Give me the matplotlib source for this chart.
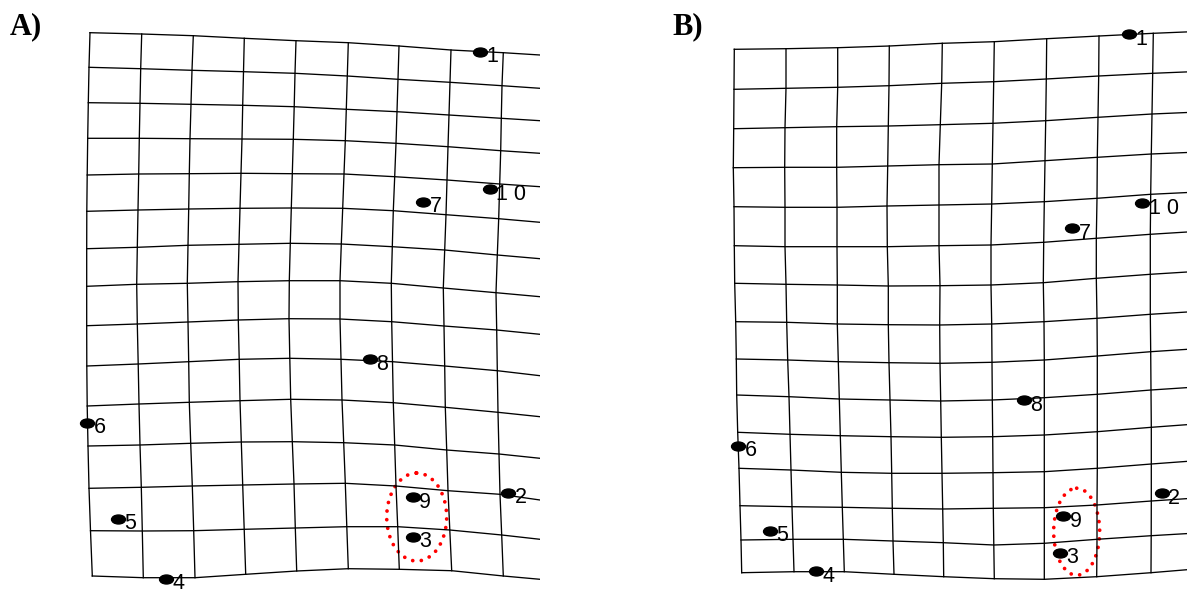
import numpy as np
import matplotlib
matplotlib.use("Agg")
import matplotlib.pyplot as plt
from matplotlib.path import Path
from matplotlib.transforms import Affine2D
from matplotlib.patches import Ellipse

# --- A) deformation grid: node positions (image pixels), rows top->bottom ---
# x of the 9 vertical lines, one row per horizontal line
a_x = np.array([
    [90.0, 141.7, 193.3, 244.3, 296.0, 348.3, 399.0, 451.0, 503.3],
    [89.0, 140.7, 192.0, 243.5, 295.0, 347.3, 398.0, 450.0, 502.0],
    [88.3, 140.0, 191.0, 242.7, 294.2, 346.3, 397.0, 449.0, 501.3],
    [87.7, 139.3, 190.0, 242.0, 293.3, 345.3, 396.0, 448.0, 500.7],
    [87.2, 138.7, 189.3, 241.0, 292.3, 344.0, 394.7, 447.0, 499.7],
    [86.8, 138.0, 188.7, 240.0, 291.3, 342.7, 393.3, 446.0, 498.7],
    [86.7, 137.3, 188.0, 239.0, 290.3, 341.3, 392.3, 444.7, 497.3],
    [86.7, 136.7, 187.3, 238.0, 289.3, 340.0, 391.3, 443.3, 496.0],
    [86.7, 137.3, 188.0, 238.3, 289.0, 340.0, 391.7, 444.0, 496.7],
    [86.8, 138.2, 188.7, 239.2, 289.8, 341.0, 392.5, 444.7, 497.3],
    [87.2, 139.0, 189.3, 240.0, 290.7, 342.0, 393.3, 445.3, 498.0],
    [88.0, 140.0, 190.7, 241.3, 292.3, 343.7, 394.7, 446.7, 499.0],
    [89.0, 141.3, 192.3, 242.7, 294.0, 345.3, 396.0, 448.0, 500.0],
    [90.5, 142.3, 193.7, 244.2, 295.3, 346.8, 397.7, 449.8, 501.7],
    [92.3, 143.3, 195.0, 245.7, 296.7, 348.3, 399.3, 451.7, 503.3],
])
# y of the 15 horizontal lines at each vertical line, last column = right edge
a_y = np.array([
    [32.7, 34.0, 35.7, 38.3, 40.7, 42.7, 46.0, 50.0, 52.7, 55.0],
    [67.3, 68.7, 70.3, 71.7, 73.3, 76.0, 79.3, 82.3, 85.7, 88.3],
    [102.7, 103.3, 104.3, 105.3, 106.7, 109.3, 111.7, 115.0, 118.3, 120.7],
    [138.3, 138.3, 138.7, 139.0, 139.3, 140.7, 143.3, 146.7, 150.7, 153.3],
    [175.0, 174.0, 173.7, 173.3, 173.7, 174.0, 176.7, 180.0, 184.0, 186.7],
    [211.3, 210.0, 209.0, 208.3, 208.0, 208.3, 210.7, 214.7, 218.7, 222.3],
    [248.7, 247.3, 245.3, 244.3, 243.3, 244.0, 246.7, 250.0, 255.0, 258.7],
    [286.3, 284.3, 283.3, 281.7, 280.7, 280.7, 283.3, 288.0, 292.7, 296.7],
    [325.7, 324.0, 322.0, 320.0, 318.7, 319.0, 321.7, 326.0, 330.0, 334.3],
    [366.0, 364.0, 361.7, 359.3, 358.3, 359.3, 361.7, 366.0, 370.7, 375.7],
    [406.0, 404.0, 402.3, 400.7, 399.3, 400.0, 402.7, 407.3, 412.3, 416.7],
    [446.0, 445.0, 443.3, 442.0, 441.7, 442.7, 445.0, 450.0, 454.0, 458.3],
    [488.3, 487.3, 486.0, 485.0, 484.0, 483.3, 486.0, 490.7, 494.3, 500.0],
    [530.7, 531.0, 530.7, 529.3, 528.0, 526.7, 526.7, 530.0, 535.0, 539.3],
    [576.0, 577.7, 577.7, 574.3, 571.0, 568.7, 569.3, 570.7, 576.0, 579.3],
])
a_edge = 540

# --- B) deformation grid ---
b_x = np.array([
    [734.3, 786.0, 837.7, 889.3, 942.3, 994.3, 1046.7, 1099.0, 1153.3],
    [734.0, 786.0, 837.7, 889.0, 941.7, 993.7, 1046.3, 1098.7, 1152.7],
    [733.7, 785.0, 836.7, 888.3, 940.3, 993.0, 1045.7, 1098.0, 1152.0],
    [733.3, 784.7, 836.7, 887.7, 939.0, 992.3, 1045.0, 1097.3, 1151.3],
    [734.0, 785.0, 837.0, 887.0, 939.0, 991.7, 1044.3, 1097.0, 1150.7],
    [734.3, 785.0, 837.0, 887.3, 939.0, 991.0, 1043.7, 1096.3, 1150.3],
    [734.7, 786.0, 837.3, 888.3, 940.0, 991.0, 1043.3, 1096.3, 1150.3],
    [735.7, 786.7, 837.3, 888.3, 939.7, 991.7, 1044.0, 1097.0, 1150.3],
    [736.3, 787.7, 838.3, 889.0, 940.0, 992.0, 1044.3, 1097.3, 1150.7],
    [736.7, 789.0, 839.3, 890.0, 940.7, 992.3, 1044.3, 1097.3, 1151.0],
    [737.7, 790.0, 840.3, 891.0, 941.3, 992.7, 1044.3, 1097.3, 1151.3],
    [739.0, 791.0, 841.3, 891.7, 942.0, 993.0, 1044.3, 1097.3, 1151.3],
    [740.0, 792.0, 842.3, 892.3, 942.7, 993.3, 1044.3, 1097.0, 1151.3],
    [741.0, 793.0, 843.3, 893.0, 943.3, 993.8, 1044.3, 1097.0, 1151.2],
    [741.7, 794.0, 844.3, 894.0, 943.7, 994.3, 1044.3, 1096.7, 1151.0],
])
b_y = np.array([
    [49.3, 48.7, 47.7, 46.0, 43.3, 41.7, 38.7, 36.0, 33.3, 31.7],
    [89.3, 88.3, 87.3, 85.7, 83.3, 81.7, 79.0, 76.0, 73.3, 71.7],
    [128.7, 127.7, 126.7, 126.0, 124.7, 123.3, 120.7, 117.3, 114.0, 112.3],
    [167.7, 167.3, 167.3, 166.0, 164.7, 164.0, 160.7, 157.3, 154.0, 152.3],
    [206.7, 207.3, 207.3, 206.0, 205.0, 204.0, 201.7, 198.3, 194.3, 192.3],
    [245.7, 246.7, 246.7, 246.7, 245.7, 245.0, 242.3, 238.3, 234.3, 231.7],
    [283.3, 284.3, 285.0, 286.0, 285.7, 285.0, 282.7, 278.3, 274.3, 271.7],
    [321.7, 322.3, 324.0, 324.7, 325.0, 324.0, 321.7, 318.3, 314.3, 311.7],
    [359.0, 360.0, 361.7, 362.7, 363.3, 362.3, 360.0, 356.0, 351.7, 349.0],
    [395.0, 396.7, 399.0, 400.0, 401.0, 400.0, 397.7, 394.3, 390.0, 387.3],
    [432.3, 434.3, 435.7, 436.7, 437.3, 436.7, 435.0, 431.7, 427.3, 424.3],
    [468.3, 470.0, 472.3, 473.3, 473.3, 472.7, 471.7, 468.3, 464.0, 461.0],
    [505.7, 506.7, 507.3, 508.3, 509.0, 508.3, 507.7, 505.0, 501.0, 498.3],
    [540.0, 539.3, 539.3, 541.0, 542.7, 545.0, 543.3, 539.3, 535.7, 533.3],
    [572.7, 571.7, 571.7, 574.3, 576.7, 578.7, 579.3, 576.7, 572.7, 569.3],
])
b_edge = 1187

# --- landmarks ---
lm_labels = ["1", "2", "3", "4", "5", "6", "7", "8", "9", "1 0"]
a_lm_x = [480.0, 508.3, 413.3, 166.0, 118.3, 87.3, 423.3, 370.0, 412.7, 490.0]
a_lm_y = [51.7, 492.7, 536.7, 578.7, 518.7, 422.7, 201.7, 359.3, 497.3, 189.3]
b_lm_x = [1129.3, 1161.7, 1060.0, 816.0, 770.0, 738.3, 1072.3, 1024.3, 1063.3, 1142.3]
b_lm_y = [34.3, 493.3, 552.7, 571.0, 530.7, 445.7, 228.3, 400.0, 516.0, 203.3]

# highlighted landmarks 9 and 3 (center x, center y, width, height)
a_ring = (416.7, 517.0, 60.0, 88.0)
b_ring = (1076.7, 531.7, 46.0, 87.0)

W, H = 1187, 594
fig = plt.figure(figsize=(W / 100, H / 100), dpi=100)
fig.patch.set_facecolor("white")

# flattened ellipse marker for the landmarks
dot = Path.unit_circle().transformed(Affine2D().scale(1.55, 1.0))


def panel(ax, gx, gy, edge, lx, ly, ring):
    # horizontal lines run out to the panel edge
    for i in range(gy.shape[0]):
        xs = np.append(gx[i], edge)
        ax.plot(xs, gy[i], color="black", lw=0.95)
    for j in range(gx.shape[1]):
        ax.plot(gx[:, j], gy[:, j], color="black", lw=0.95)
    ax.plot(lx, ly, ls="none", marker=dot, ms=10, color="black")
    for lab, x, y in zip(lm_labels, lx, ly):
        ax.annotate(lab, (x, y), xytext=(4.5, -7.7), textcoords="offset points",
                    ha="left", va="baseline", fontsize=15.5,
                    family="Liberation Sans", color="black")
    cx, cy, w, h = ring
    ax.add_patch(Ellipse((cx, cy), w, h, fill=False, ec="red", lw=2.7,
                         ls=(0, (0.01, 2.3)), capstyle="round"))
    ax.set_ylim(H, 0)
    ax.axis("off")


axA = fig.add_axes([0, 0, a_edge / W, 1])
axA.set_xlim(0, a_edge)
panel(axA, a_x, a_y, a_edge, a_lm_x, a_lm_y, a_ring)

axB = fig.add_axes([600 / W, 0, (W - 600) / W, 1])
axB.set_xlim(600, W)
panel(axB, b_x, b_y, b_edge + 5, b_lm_x, b_lm_y, b_ring)

fig.text(10 / W, 1 - 12 / H, "A)", ha="left", va="top", fontsize=22,
         fontweight="bold", family="Liberation Serif")
fig.text(672 / W, 1 - 12 / H, "B)", ha="left", va="top", fontsize=22,
         fontweight="bold", family="Liberation Serif")

fig.savefig("out.png", dpi=100)
